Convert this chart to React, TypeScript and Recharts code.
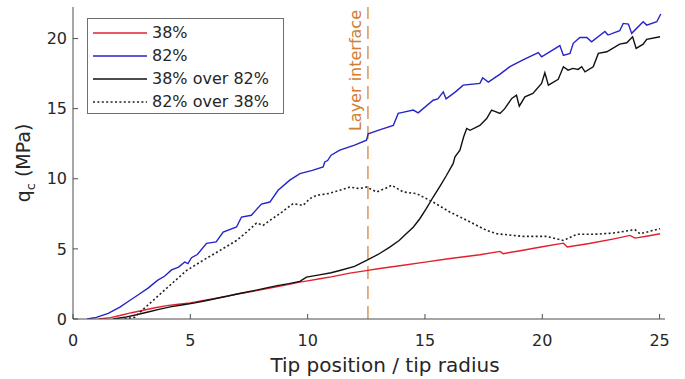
import { LineChart, Line, XAxis, YAxis, Legend, ReferenceLine } from 'recharts'

// q_c (MPa) vs tip position / tip radius
const red38: [number, number][] = [
  [1.1, 0], [1.6, 0.1], [2.0, 0.25], [2.5, 0.45], [3.0, 0.62], [3.5, 0.8], [4.0, 0.95],
  [4.5, 1.05], [5.0, 1.15], [5.5, 1.3], [6.0, 1.45], [6.5, 1.6], [7.0, 1.78], [7.5, 1.92],
  [8.0, 2.08], [8.5, 2.25], [9.0, 2.4], [9.67, 2.63], [10.0, 2.72], [10.52, 2.87], [11.0, 3.0],
  [11.8, 3.27], [12.5, 3.45], [13.0, 3.58], [14.0, 3.82], [15.0, 4.06], [16.0, 4.3],
  [17.34, 4.58], [18.2, 4.82], [18.33, 4.66], [19.0, 4.85], [20.0, 5.15], [20.9, 5.41],
  [21.07, 5.13], [22.0, 5.38], [23.0, 5.7], [23.74, 5.96], [23.95, 5.77], [24.5, 5.92],
  [25.02, 6.08],
]

const blue82: [number, number][] = [
  [0.6, 0], [1.0, 0.12], [1.5, 0.4], [2.0, 0.85], [2.4, 1.3], [2.8, 1.75], [3.2, 2.2],
  [3.6, 2.75], [3.9, 3.05], [4.2, 3.5], [4.5, 3.7], [4.76, 4.06], [4.9, 3.95], [5.05, 4.37],
  [5.3, 4.6], [5.69, 5.4], [6.1, 5.5], [6.4, 6.2], [6.97, 6.56], [7.18, 7.27], [7.6, 7.4],
  [8.03, 8.2], [8.39, 8.34], [8.74, 9.18], [9.24, 9.9], [9.67, 10.37], [10.2, 10.6],
  [10.66, 10.84], [10.73, 11.2], [10.85, 11.3], [11.0, 11.68], [11.37, 12.04], [12.0, 12.4],
  [12.51, 12.75], [12.58, 13.2], [13.1, 13.5], [13.65, 13.8], [13.86, 14.66], [14.1, 14.75],
  [14.5, 14.9], [14.71, 14.7], [15.35, 15.6], [15.55, 15.7], [15.78, 16.2], [15.9, 15.7],
  [16.3, 16.2], [16.63, 16.68], [17.34, 16.8], [17.46, 17.2], [17.7, 16.9], [18.2, 17.46],
  [18.62, 18.0], [19.2, 18.5], [19.83, 19.0], [19.97, 18.7], [20.75, 19.5], [20.9, 18.8],
  [21.18, 18.94], [21.32, 19.66], [21.6, 20.08], [21.9, 20.08], [22.1, 19.77], [22.67, 20.5],
  [22.8, 20.25], [23.3, 20.56], [23.45, 21.08], [23.67, 21.03], [23.81, 20.37], [24.3, 21.2],
  [24.45, 20.96], [24.88, 21.2], [25.05, 21.75],
]

const black38over82: [number, number][] = [
  [1.7, 0], [2.2, 0.12], [2.7, 0.3], [3.2, 0.5], [3.7, 0.7], [4.2, 0.88], [4.7, 1.02],
  [5.2, 1.15], [5.7, 1.32], [6.2, 1.5], [6.7, 1.68], [7.2, 1.85], [7.7, 2.02], [8.2, 2.2],
  [8.7, 2.38], [9.2, 2.52], [9.67, 2.68], [9.95, 2.99], [10.5, 3.15], [11.0, 3.3],
  [11.37, 3.46], [12.0, 3.75], [12.51, 4.18], [13.0, 4.6], [13.5, 5.13], [13.9, 5.6],
  [14.2, 6.08], [14.5, 6.55], [14.78, 7.15], [15.05, 7.85], [15.35, 8.7], [15.65, 9.5],
  [15.92, 10.25], [16.2, 11.08], [16.28, 11.56], [16.49, 12.04], [16.65, 13.0], [16.78, 13.59],
  [16.92, 13.46], [17.34, 13.8], [17.63, 14.3], [17.84, 14.9], [18.2, 14.66], [18.4, 15.0],
  [18.7, 15.73], [18.9, 15.96], [19.02, 15.18], [19.26, 15.84], [19.6, 16.08], [19.97, 16.8],
  [20.11, 17.56], [20.26, 16.68], [20.68, 17.09], [20.9, 17.99], [21.1, 17.75], [21.3, 17.87],
  [21.53, 17.8], [21.68, 17.99], [21.82, 17.63], [22.17, 17.99], [22.39, 18.94], [22.75, 19.06],
  [23.3, 19.6], [23.6, 19.7], [23.85, 20.13], [24.0, 19.3], [24.3, 19.6], [24.45, 19.94],
  [25.02, 20.13],
]

const dotted82over38: [number, number][] = [
  [2.2, 0], [2.63, 0.13], [3.0, 0.7], [3.41, 1.32], [4.12, 2.39], [4.84, 3.46], [5.54, 4.18],
  [6.26, 4.89], [6.97, 5.6], [7.4, 6.2], [7.82, 6.84], [8.1, 6.68], [8.45, 7.1], [8.81, 7.51],
  [9.38, 8.23], [9.8, 8.1], [10.1, 8.59], [10.38, 8.82], [10.9, 8.95], [11.37, 9.18],
  [11.8, 9.41], [12.2, 9.3], [12.51, 9.41], [12.94, 9.06], [13.3, 9.3], [13.58, 9.54],
  [14.07, 9.06], [14.64, 8.94], [15.35, 8.34], [16.06, 7.63], [16.78, 7.04], [17.34, 6.56],
  [17.63, 6.32], [18.06, 6.08], [19.19, 5.89], [20.19, 5.89], [20.9, 5.6], [21.47, 6.04],
  [22.3, 6.05], [23.03, 6.13], [23.95, 6.37], [24.17, 6.08], [25.02, 6.44],
]

const xTicks = [0, 5, 10, 15, 20, 25]
const yTicks = [0, 5, 10, 15, 20]
const interfaceX = 12.57

const FONT = '"DejaVu Sans", Verdana, sans-serif'
const AXIS = '#4d4d4d'
const TEXT = '#262626'
const ORANGE = '#D07C32'

const SERIES = [
  { name: '38%', data: red38, color: '#E3202B', dash: undefined as string | undefined, width: 1.4 },
  { name: '82%', data: blue82, color: '#2424C8', dash: undefined, width: 1.4 },
  { name: '38% over 82%', data: black38over82, color: '#111111', dash: undefined, width: 1.4 },
  { name: '82% over 38%', data: dotted82over38, color: '#222222', dash: '2 2.4', width: 1.6 },
]

const toPoints = (arr: [number, number][]) => arr.map(([x, y]) => ({ x, y }))

function LegendBox() {
  return (
    <div
      style={{
        width: 195,
        border: '1px solid #6f6f6f',
        background: '#fff',
        paddingTop: 2,
        fontFamily: FONT,
        fontSize: 16,
        color: TEXT,
      }}
    >
      {SERIES.map((s) => (
        <div key={s.name} style={{ height: 23, display: 'flex', alignItems: 'center' }}>
          <svg width={54} height={6} style={{ marginLeft: 5, marginRight: 5 }}>
            <line x1={0} y1={3} x2={54} y2={3} stroke={s.color} strokeWidth={s.width} strokeDasharray={s.dash} />
          </svg>
          <span style={{ whiteSpace: 'nowrap' }}>{s.name}</span>
        </div>
      ))}
    </div>
  )
}

function InterfaceLabel(props: any) {
  const vb = props.viewBox || {}
  const x = vb.x - 7
  const y = vb.y + 3
  return (
    <text x={x} y={y} transform={`rotate(-90, ${x}, ${y})`} textAnchor="end" fontSize={16} fill={ORANGE} fontFamily={FONT}>
      Layer interface
    </text>
  )
}

function XLabel(props: any) {
  const vb = props.viewBox || {}
  return (
    <text x={vb.x + vb.width / 2 + 16} y={vb.y + 52.5} textAnchor="middle" fontSize={20} fill={TEXT} fontFamily={FONT}>
      Tip position / tip radius
    </text>
  )
}

function YLabel() {
  const x = 30
  const y = 163
  return (
    <text x={x} y={y} transform={`rotate(-90, ${x}, ${y})`} textAnchor="middle" fontSize={19} fill={TEXT} fontFamily={FONT}>
      q
      <tspan dy={5} fontSize={13}>c</tspan>
      <tspan dy={-5}> (MPa)</tspan>
    </text>
  )
}

export default function App() {
  return (
    <div style={{ position: 'absolute', left: 0, top: 0, fontFamily: FONT }}>
      <LineChart width={685} height={379} margin={{ top: 7, right: 20, bottom: 0, left: 0 }}>
        <XAxis
          dataKey="x"
          type="number"
          domain={[0, 25.23]}
          ticks={xTicks}
          allowDataOverflow
          height={60}
          tickSize={-5}
          tickMargin={21}
          tick={{ fill: TEXT, fontSize: 16, fontFamily: FONT }}
          stroke={AXIS}
          label={<XLabel />}
        />
        <XAxis
          xAxisId="top"
          orientation="top"
          type="number"
          domain={[0, 25.23]}
          ticks={xTicks}
          allowDataOverflow
          height={0}
          tickSize={-5}
          tickFormatter={() => ''}
          stroke={AXIS}
        />
        <YAxis
          type="number"
          domain={[0, 22.25]}
          ticks={yTicks}
          allowDataOverflow
          width={73}
          tickSize={-5}
          tickMargin={11}
          tick={{ fill: TEXT, fontSize: 16, fontFamily: FONT }}
          stroke={AXIS}
          label={<YLabel />}
        />
        <YAxis
          yAxisId="right"
          orientation="right"
          type="number"
          domain={[0, 22.25]}
          ticks={yTicks}
          allowDataOverflow
          width={0}
          tickSize={-5}
          tickFormatter={() => ''}
          stroke={AXIS}
        />
        <ReferenceLine
          x={interfaceX}
          stroke={ORANGE}
          strokeWidth={1.2}
          strokeDasharray="13 7"
          label={<InterfaceLabel />}
        />
        {SERIES.map((s) => (
          <Line
            key={s.name}
            data={toPoints(s.data)}
            dataKey="y"
            name={s.name}
            type="linear"
            stroke={s.color}
            strokeWidth={s.width}
            strokeDasharray={s.dash}
            dot={false}
            activeDot={false}
            isAnimationActive={false}
          />
        ))}
        <Legend
          layout="vertical"
          align="center"
          verticalAlign="middle"
          content={() => <LegendBox />}
          wrapperStyle={{ position: 'absolute', left: 87, top: 18, width: 'auto', height: 'auto' }}
        />
      </LineChart>
    </div>
  )
}
